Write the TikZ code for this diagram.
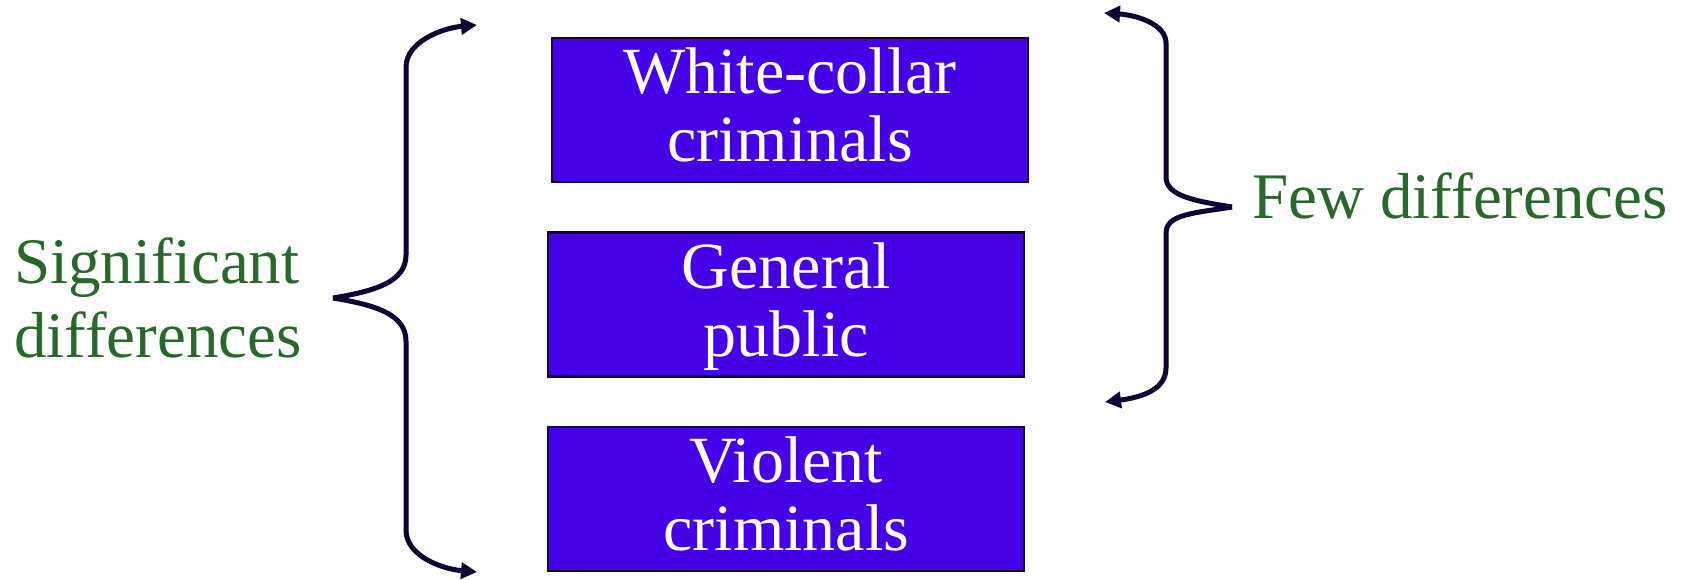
\documentclass[tikz,border=0pt]{standalone}
\usepackage{fontspec}
\setmainfont{Liberation Serif}
\usetikzlibrary{arrows.meta}
\definecolor{boxfill}{RGB}{70,0,232}
\definecolor{boxedge}{RGB}{16,0,58}
\definecolor{labgreen}{RGB}{40,104,42}
\definecolor{bracecol}{RGB}{16,0,52}
\newcommand\myTS{\rule{0pt}{50pt}}
\newcommand\myBS{\rule[-15pt]{0pt}{15pt}}
\tikzset{
  groupbox/.style={draw=boxedge, line width=2.5pt, fill=boxfill, text=white,
    minimum width=476pt, minimum height=144pt, inner sep=0pt, align=center,
    font=\fontsize{66}{68}\selectfont},
  sidelabel/.style={text=labgreen, inner sep=0pt, font=\fontsize{65}{74}\selectfont},
  bracepath/.style={draw=bracecol, line width=5pt, line join=round,
    -{Triangle[length=16pt,width=16pt]}}
}
\begin{document}
\begin{tikzpicture}[x=1pt,y=-1pt]
\useasboundingbox (0,0) rectangle (1689,579);
\node[groupbox] (wc) at (790,110) {\myTS White-collar\\criminals\myBS};
\node[groupbox] (gp) at (786.2,304.5) {\myTS General\\public\myBS};
\node[groupbox] (vc) at (786.2,499.2) {\myTS Violent\\criminals\myBS};
\node[sidelabel, anchor=west, align=left] (sig) at (14,302.5) {\myTS Significant\\differences\myBS};
\node[sidelabel, anchor=base west] (few) at (1252,218) {Few differences};
% left brace
\coordinate (lmid) at (333,298);
\coordinate (ltop) at (477,25);
\coordinate (lbot) at (477,572);
\draw[bracepath] (lmid) .. controls (375,291) and (406,282) .. (406,255) -- (406,67) .. controls (406,42) and (442,28) .. (ltop);
\draw[bracepath] (lmid) .. controls (375,305) and (406,314) .. (406,341) -- (406,530) .. controls (406,556) and (442,569) .. (lbot);
% right brace
\coordinate (rmid) at (1232,207);
\coordinate (rtop) at (1104,13);
\coordinate (rbot) at (1105,402);
\draw[bracepath] (rmid) .. controls (1195,201) and (1166,196) .. (1166,177) -- (1166,43) .. controls (1166,24) and (1136,15) .. (rtop);
\draw[bracepath] (rmid) .. controls (1195,213) and (1166,214) .. (1166,233) -- (1166,368) .. controls (1166,392) and (1136,398) .. (rbot);
\end{tikzpicture}
\end{document}
